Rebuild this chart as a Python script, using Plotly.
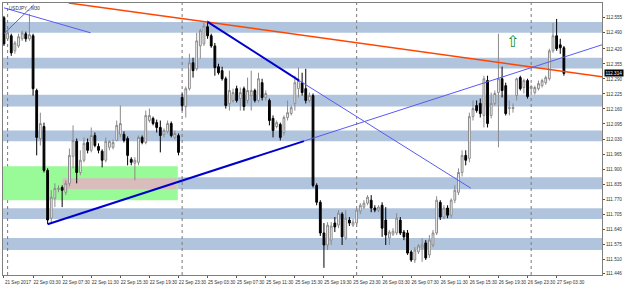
import plotly.graph_objects as go
import pandas as pd

symbol_label = "USDJPY_,M30"
start_time = "2017-09-21 23:30"

open_ = [112.555, 112.464, 112.477, 112.412, 112.433, 112.464, 112.486, 112.464, 112.477, 112.240,
         112.032, 112.084, 111.894, 111.687, 111.773, 111.812, 111.820, 111.799, 111.838, 111.955,
         112.020, 111.885, 111.938, 112.015, 111.981, 112.045, 111.998, 111.977, 111.938, 111.994,
         111.994, 112.024, 112.050, 112.050, 112.032, 111.942, 111.925, 111.929, 112.037, 112.015,
         112.110, 112.119, 112.101, 112.080, 112.050, 112.063, 112.097, 112.037, 112.045, 112.210,
         112.171, 112.248, 112.360, 112.334, 112.433, 112.442, 112.516, 112.477, 112.433, 112.343,
         112.326, 112.291, 112.184, 112.197, 112.248, 112.205, 112.248, 112.197, 112.218, 112.240,
         112.197, 112.274, 112.210, 112.197, 112.119, 112.084, 112.093, 112.058, 112.123, 112.140,
         112.184, 112.248, 112.274, 112.248, 112.197, 112.218, 111.829, 111.756, 111.623, 111.571,
         111.592, 111.666, 111.657, 111.705, 111.601, 111.679, 111.657, 111.666, 111.718, 111.735,
         111.752, 111.765, 111.731, 111.722, 111.743, 111.679, 111.601, 111.618, 111.623, 111.679,
         111.627, 111.623, 111.541, 111.506, 111.541, 111.558, 111.580, 111.528, 111.571, 111.623,
         111.756, 111.692, 111.731, 111.700, 111.765, 111.799, 111.885, 111.959, 111.946, 112.127,
         112.175, 112.184, 112.132, 112.283, 112.132, 112.184, 112.231, 112.291, 112.261, 112.162,
         112.162, 112.218, 112.296, 112.253, 112.283, 112.248, 112.231, 112.248, 112.261, 112.274,
         112.291, 112.412, 112.477, 112.438, 112.425]

high = [112.563, 112.503, 112.486, 112.455, 112.486, 112.499, 112.495, 112.572, 112.486, 112.248,
        112.144, 112.101, 111.903, 111.808, 111.838, 111.829, 111.829, 111.851, 111.989, 112.089,
        112.032, 111.981, 112.037, 112.032, 112.080, 112.058, 112.011, 111.985, 112.037, 112.024,
        112.028, 112.110, 112.175, 112.063, 112.041, 111.951, 111.951, 112.045, 112.045, 112.153,
        112.162, 112.127, 112.114, 112.110, 112.076, 112.110, 112.106, 112.067, 112.054, 112.227,
        112.257, 112.399, 112.382, 112.490, 112.507, 112.533, 112.542, 112.486, 112.446, 112.356,
        112.343, 112.300, 112.326, 112.248, 112.261, 112.253, 112.257, 112.296, 112.326, 112.248,
        112.317, 112.291, 112.240, 112.205, 112.132, 112.110, 112.101, 112.132, 112.197, 112.175,
        112.304, 112.339, 112.317, 112.334, 112.231, 112.227, 111.838, 111.765, 111.666, 111.670,
        111.670, 111.692, 111.722, 111.713, 111.722, 111.692, 111.683, 111.731, 111.752, 111.765,
        111.787, 111.787, 111.743, 111.743, 111.756, 111.735, 111.636, 111.644, 111.709, 111.692,
        111.636, 111.636, 111.549, 111.562, 111.575, 111.601, 111.592, 111.614, 111.636, 111.782,
        111.765, 111.743, 111.743, 111.773, 111.830, 111.903, 111.981, 111.981, 112.144, 112.197,
        112.197, 112.205, 112.304, 112.304, 112.231, 112.240, 112.486, 112.343, 112.274, 112.197,
        112.184, 112.296, 112.304, 112.291, 112.291, 112.265, 112.261, 112.283, 112.291, 112.304,
        112.421, 112.533, 112.550, 112.464, 112.433]

low = [112.433, 112.455, 112.390, 112.399, 112.425, 112.455, 112.451, 112.455, 112.218, 111.959,
       112.002, 111.885, 111.662, 111.670, 111.735, 111.799, 111.735, 111.787, 111.825, 111.903,
       111.838, 111.873, 111.929, 111.968, 111.972, 111.994, 111.968, 111.907, 111.929, 111.981,
       111.985, 112.020, 112.037, 112.015, 111.916, 111.916, 111.851, 111.916, 112.007, 112.007,
       112.101, 112.089, 112.058, 111.972, 112.037, 112.054, 112.037, 112.028, 111.959, 112.153,
       112.123, 112.240, 112.296, 112.326, 112.378, 112.433, 112.464, 112.425, 112.304, 112.309,
       112.283, 112.162, 112.153, 112.188, 112.188, 112.153, 112.153, 112.184, 112.153, 112.188,
       112.188, 112.197, 112.197, 112.089, 112.037, 112.076, 112.024, 112.045, 112.110, 112.132,
       112.153, 112.210, 112.218, 112.184, 112.188, 111.820, 111.743, 111.610, 111.472, 111.549,
       111.571, 111.627, 111.644, 111.571, 111.592, 111.653, 111.649, 111.649, 111.705, 111.726,
       111.743, 111.713, 111.713, 111.713, 111.606, 111.571, 111.571, 111.610, 111.614, 111.614,
       111.592, 111.528, 111.498, 111.493, 111.532, 111.498, 111.506, 111.515, 111.562, 111.614,
       111.679, 111.683, 111.687, 111.687, 111.752, 111.787, 111.868, 111.916, 111.929, 112.110,
       112.144, 112.123, 112.080, 112.080, 112.119, 112.175, 111.994, 112.210, 112.132, 112.132,
       112.144, 112.197, 112.240, 112.227, 112.205, 112.231, 112.222, 112.240, 112.253, 112.265,
       112.283, 112.403, 112.412, 112.399, 112.304]

close = [112.442, 112.490, 112.403, 112.446, 112.473, 112.490, 112.464, 112.482, 112.248, 112.037,
         112.097, 111.894, 111.679, 111.778, 111.816, 111.816, 111.808, 111.838, 111.959, 112.024,
         111.885, 111.938, 112.011, 111.981, 112.045, 112.002, 111.981, 111.938, 112.020, 112.020,
         112.015, 112.089, 112.097, 112.024, 111.959, 111.929, 111.938, 112.037, 112.015, 112.132,
         112.132, 112.097, 112.080, 112.045, 112.067, 112.097, 112.045, 112.054, 111.972, 112.175,
         112.248, 112.360, 112.326, 112.455, 112.499, 112.520, 112.477, 112.433, 112.339, 112.317,
         112.291, 112.175, 112.240, 112.231, 112.197, 112.231, 112.171, 112.240, 112.240, 112.197,
         112.291, 112.210, 112.227, 112.110, 112.067, 112.101, 112.037, 112.123, 112.144, 112.166,
         112.274, 112.283, 112.231, 112.197, 112.218, 111.829, 111.756, 111.623, 111.571, 111.657,
         111.653, 111.649, 111.709, 111.606, 111.687, 111.666, 111.670, 111.722, 111.743, 111.752,
         111.778, 111.731, 111.722, 111.735, 111.644, 111.614, 111.627, 111.631, 111.687, 111.623,
         111.606, 111.536, 111.506, 111.549, 111.567, 111.571, 111.515, 111.592, 111.623, 111.765,
         111.692, 111.731, 111.700, 111.765, 111.808, 111.885, 111.959, 111.938, 112.127, 112.162,
         112.153, 112.140, 112.291, 112.097, 112.184, 112.227, 112.291, 112.240, 112.140, 112.166,
         112.166, 112.291, 112.248, 112.283, 112.214, 112.257, 112.253, 112.270, 112.283, 112.296,
         112.412, 112.477, 112.421, 112.425, 112.314]

price_ticks = [112.555, 112.490, 112.420, 112.355, 112.290, 112.225, 112.160, 112.095, 112.030,
               111.965, 111.900, 111.835, 111.770, 111.705, 111.640, 111.575, 111.510, 111.446]
last_price = 112.314

# horizontal blue zones
band_low = [112.490, 112.335, 112.171, 112.020, 111.812, 111.683, 111.549]
band_high = [112.537, 112.382, 112.222, 112.067, 111.864, 111.730, 111.601]

# rectangles (bar position, price)
green_zone = (-0.3, 47.8, 111.765, 111.912)
pink_zone = (16.1, 47.5, 111.812, 111.860)

# trend lines: x0, y0, x1, y1, colour, width
trend_lines = [
    (17.8, 112.619, 164.5, 112.300, "#FF4500", 1.5),
    (0.0, 112.598, 23.8, 112.490, "#5A5AF0", 1),
    (0.0, 112.486, 8.2, 112.611, "#5A5AF0", 1),
    (56.0, 112.537, 81.2, 112.283, "#0000CD", 2),
    (81.2, 112.283, 128.4, 111.817, "#5A5AF0", 1),
    (12.0, 111.661, 82.5, 112.021, "#0000CD", 2),
    (82.5, 112.021, 164.5, 112.438, "#5A5AF0", 1),
]
arrow_pos = (139.9, 112.451)

n = len(close)
all_times = pd.date_range(start_time, periods=400, freq="30min")
times = [t for t in all_times if t.dayofweek < 5][:n]
cats = [t.strftime("%Y-%m-%d %H:%M") for t in times]

tick_idx = list(range(0, n, 8))
tick_vals = [cats[i] for i in tick_idx]
tick_text = []
for k, i in enumerate(tick_idx):
    t = times[i]
    if k == 0:
        tick_text.append(f"{t.day} {t.strftime('%b')} {t.year}")
    else:
        tick_text.append(f"{t.day} {t.strftime('%b')} {t.strftime('%H:%M')}")
sep_idx = [i for i, t in enumerate(times) if t.hour == 0 and t.minute == 0]

fig = go.Figure()
fig.add_trace(go.Candlestick(
    x=cats, open=open_, high=high, low=low, close=close,
    increasing=dict(line=dict(color="#8a8a8a", width=1), fillcolor="#ffffff"),
    decreasing=dict(line=dict(color="#000000", width=1), fillcolor="#000000"),
    whiskerwidth=0, showlegend=False, hoverinfo="skip",
))

shapes = []
for lo, hi in zip(band_low, band_high):
    shapes.append(dict(type="rect", xref="paper", x0=0, x1=1, yref="y", y0=lo, y1=hi,
                       fillcolor="#B0C4DE", line=dict(width=0), layer="below"))
gx0, gx1, gy0, gy1 = green_zone
shapes.append(dict(type="rect", xref="x", x0=gx0, x1=gx1, yref="y", y0=gy0, y1=gy1,
                   fillcolor="#98FB98", line=dict(width=0), layer="below"))
px0, px1, py0, py1 = pink_zone
shapes.append(dict(type="rect", xref="x", x0=px0, x1=px1, yref="y", y0=py0, y1=py1,
                   fillcolor="#D9BDBD", line=dict(width=0), layer="below"))
for i in sep_idx:
    shapes.append(dict(type="line", xref="x", x0=i, x1=i, yref="paper", y0=0, y1=1,
                       line=dict(color="#7a7a7a", width=1, dash="dot"), layer="below"))
for x0, y0, x1, y1, col, w in trend_lines:
    shapes.append(dict(type="line", xref="x", yref="y", x0=x0, y0=y0, x1=x1, y1=y1,
                       line=dict(color=col, width=w), layer="above"))

font_small = dict(family="Liberation Sans, Arial, sans-serif", size=4.6, color="#333333")

annotations = [
    dict(text=symbol_label, xref="paper", yref="paper", x=0, y=1, xanchor="left", yanchor="top",
         xshift=4, yshift=-1, showarrow=False, font=font_small),
    dict(text=f"{last_price:.3f}", xref="paper", yref="y", x=1, y=last_price, xanchor="left",
         yanchor="middle", xshift=2, showarrow=False, bgcolor="#000000", borderpad=0.5,
         font=dict(family="Liberation Sans, Arial, sans-serif", size=4.6, color="#ffffff")),
    dict(text="\u21e7", xref="x", yref="y", x=arrow_pos[0], y=arrow_pos[1], showarrow=False,
         font=dict(family="DejaVu Sans", size=16, color="#1A8F1A")),
]

fig.update_layout(
    width=625, height=287,
    margin=dict(l=2, r=20, t=2, b=12),
    paper_bgcolor="#ffffff", plot_bgcolor="#ffffff",
    shapes=shapes, annotations=annotations,
    showlegend=False,
    xaxis=dict(type="category", range=[-0.27, 164.48], rangeslider=dict(visible=False),
               tickmode="array", tickvals=tick_vals, ticktext=tick_text,
               showgrid=False, zeroline=False, showline=True, linecolor="#7f7f7f", linewidth=1,
               mirror=True, ticks="outside", ticklen=2, tickcolor="#555555",
               tickfont=font_small, tickangle=0, ticklabelshift=14, ticklabelstandoff=0),
    yaxis=dict(side="right", range=[111.441, 112.619], tickmode="array", tickvals=price_ticks,
               ticktext=[f"{v:.3f}" for v in price_ticks],
               showgrid=False, zeroline=False, showline=True, linecolor="#7f7f7f", linewidth=1,
               mirror=True, ticks="outside", ticklen=2, tickcolor="#555555",
               tickfont=font_small),
)

fig.write_html("out.html")
